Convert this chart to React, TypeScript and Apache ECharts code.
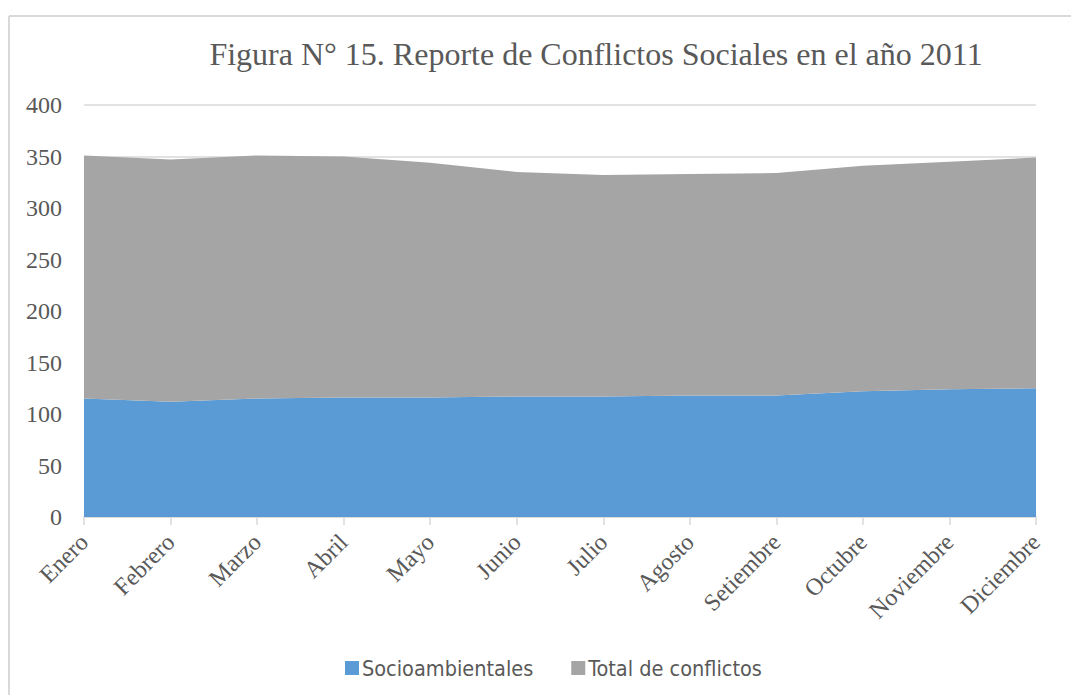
import React, { useEffect, useRef } from "react";
import * as echarts from "echarts";

const months = ["Enero", "Febrero", "Marzo", "Abril", "Mayo", "Junio", "Julio", "Agosto", "Setiembre", "Octubre", "Noviembre", "Diciembre"];
const socioambientales = [115, 112, 115, 116, 116, 117, 117, 118, 118, 122, 124, 125];
const totalConflictos = [236, 235, 236, 234, 228, 218, 215, 215, 216, 219, 221, 224];
const yTicks = [0, 50, 100, 150, 200, 250, 300, 350, 400];

const titleText = "Figura N° 15. Reporte de Conflictos Sociales en el año 2011";
const serif = "'Liberation Serif', 'Times New Roman', serif";
const sans = "'Liberation Sans Narrow', 'DejaVu Sans Condensed', 'Noto Sans', sans-serif";

export default function App() {
  const ref = useRef<HTMLDivElement>(null);
  useEffect(() => {
    if (!ref.current) return;
    const chart = echarts.init(ref.current, undefined, { renderer: "svg" });
    chart.setOption({
      animation: false,
      backgroundColor: "#ffffff",
      title: {
        text: titleText,
        left: 591,
        top: 33,
        textAlign: "center",
        textStyle: { fontFamily: serif, fontSize: 32, fontWeight: "normal", color: "#595959" },
      },
      legend: {
        top: 652,
        left: 340,
        itemWidth: 14,
        itemHeight: 14,
        itemGap: 38,
        icon: "rect",
        textStyle: { fontFamily: sans, fontSize: 21.5, color: "#595959", padding: [0, 0, 0, -2] },
        data: ["Socioambientales", "Total de conflictos"],
      },
      graphic: [
        { type: "line", shape: { x1: 9, y1: 16, x2: 1071, y2: 16 }, style: { stroke: "#d9d9d9", lineWidth: 2 } },
        { type: "line", shape: { x1: 9, y1: 16, x2: 9, y2: 695 }, style: { stroke: "#d9d9d9", lineWidth: 2 } },
      ],
      grid: { left: 84, right: 35, top: 105, bottom: 178, containLabel: false },
      xAxis: {
        type: "category",
        data: months,
        boundaryGap: false,
        axisLine: { lineStyle: { color: "#d9d9d9", width: 1.5 } },
        axisTick: { show: true, length: 8, lineStyle: { color: "#d9d9d9", width: 1.5 } },
        axisLabel: { rotate: 45, interval: 0, fontFamily: serif, fontSize: 24, color: "#595959", margin: 21 },
      },
      yAxis: {
        type: "value",
        min: yTicks[0],
        max: yTicks[yTicks.length - 1],
        interval: 50,
        axisLine: { show: false },
        axisTick: { show: false },
        splitLine: { lineStyle: { color: "#d9d9d9", width: 1.5 } },
        axisLabel: { fontFamily: serif, fontSize: 24, color: "#595959", margin: 22 },
      },
      series: [
        {
          name: "Socioambientales",
          type: "line",
          stack: "total",
          data: socioambientales,
          symbol: "none",
          lineStyle: { width: 0 },
          itemStyle: { color: "#5B9BD5" },
          areaStyle: { color: "#5B9BD5", opacity: 1 },
        },
        {
          name: "Total de conflictos",
          type: "line",
          stack: "total",
          data: totalConflictos,
          symbol: "none",
          lineStyle: { width: 0 },
          itemStyle: { color: "#A5A5A5" },
          areaStyle: { color: "#A5A5A5", opacity: 1 },
        },
      ],
    });
    return () => chart.dispose();
  }, []);
  return <div ref={ref} style={{ position: "fixed", left: 0, top: 0, width: 1071, height: 695 }} />;
}
